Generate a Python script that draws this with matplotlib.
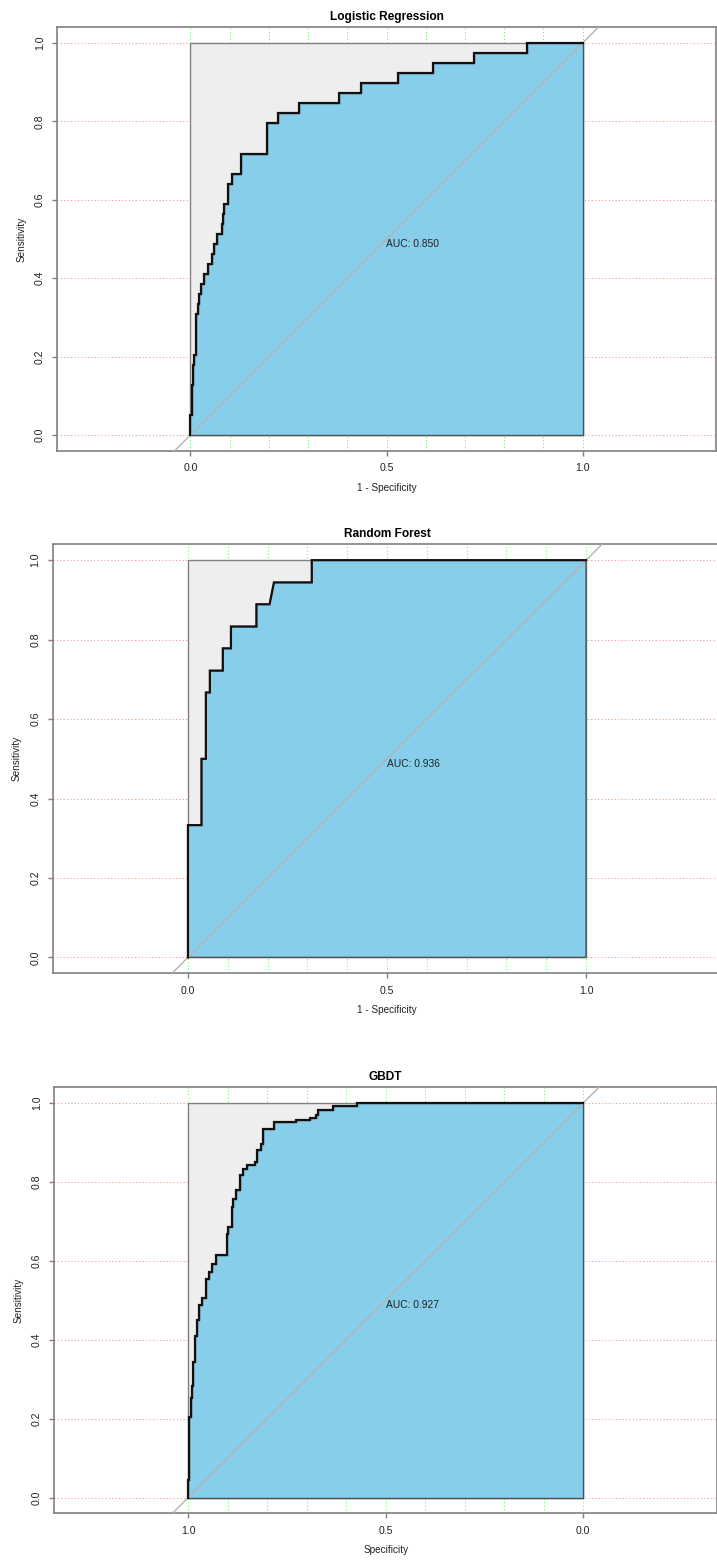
import numpy as np
import matplotlib
matplotlib.use("Agg")
import matplotlib.pyplot as plt

plt.rcParams['font.family'] = ['Liberation Sans', 'DejaVu Sans']

# ROC coordinates (corner points of each staircase)
lr_fpr = [0, 0, 0.003, 0.003, 0.006, 0.006, 0.010, 0.010, 0.015, 0.015, 0.020, 0.020,
          0.023, 0.023, 0.028, 0.028, 0.036, 0.036, 0.044, 0.044, 0.055, 0.055, 0.060,
          0.060, 0.068, 0.068, 0.081, 0.081, 0.083, 0.083, 0.087, 0.087, 0.096, 0.096,
          0.105, 0.105, 0.130, 0.130, 0.195, 0.195, 0.223, 0.223, 0.276, 0.276, 0.379,
          0.379, 0.435, 0.435, 0.529, 0.529, 0.619, 0.619, 0.724, 0.724, 0.857, 0.857, 1]
lr_tpr = [0, 0.051, 0.051, 0.128, 0.128, 0.179, 0.179, 0.205, 0.205, 0.308, 0.308, 0.333,
          0.333, 0.359, 0.359, 0.385, 0.385, 0.410, 0.410, 0.436, 0.436, 0.462, 0.462,
          0.487, 0.487, 0.513, 0.513, 0.538, 0.538, 0.564, 0.564, 0.590, 0.590, 0.641,
          0.641, 0.667, 0.667, 0.718, 0.718, 0.795, 0.795, 0.821, 0.821, 0.846, 0.846,
          0.872, 0.872, 0.897, 0.897, 0.923, 0.923, 0.949, 0.949, 0.974, 0.974, 1.0, 1.0]

rf_fpr = [0, 0, 0.034, 0.034, 0.045, 0.045, 0.055, 0.055, 0.0875, 0.0875, 0.108, 0.108,
          0.172, 0.172, 0.205, 0.216, 0.311, 0.311, 1]
rf_tpr = [0, 0.333, 0.333, 0.5, 0.5, 0.667, 0.667, 0.722, 0.722, 0.778, 0.778, 0.833,
          0.833, 0.889, 0.889, 0.944, 0.944, 1.0, 1.0]

gb_spec = [1.000, 1.000, 0.998, 0.998, 0.994, 0.994, 0.990, 0.990, 0.987, 0.987, 0.983,
           0.983, 0.979, 0.979, 0.972, 0.972, 0.966, 0.966, 0.954, 0.954, 0.947, 0.947,
           0.941, 0.941, 0.931, 0.931, 0.903, 0.903, 0.899, 0.899, 0.890, 0.890, 0.886,
           0.886, 0.878, 0.878, 0.869, 0.869, 0.861, 0.861, 0.852, 0.852, 0.831, 0.831,
           0.825, 0.825, 0.817, 0.817, 0.810, 0.810, 0.783, 0.783, 0.728, 0.728, 0.692,
           0.692, 0.677, 0.677, 0.672, 0.672, 0.634, 0.634, 0.572, 0.572, 0.0]
gb_sens = [0, 0.045, 0.045, 0.205, 0.205, 0.252, 0.252, 0.283, 0.283, 0.344, 0.344,
           0.409, 0.409, 0.449, 0.449, 0.488, 0.488, 0.505, 0.505, 0.555, 0.555, 0.572,
           0.572, 0.593, 0.593, 0.614, 0.614, 0.669, 0.669, 0.686, 0.686, 0.737, 0.737,
           0.758, 0.758, 0.779, 0.779, 0.817, 0.817, 0.834, 0.834, 0.842, 0.842, 0.851,
           0.851, 0.880, 0.880, 0.897, 0.897, 0.935, 0.935, 0.952, 0.952, 0.958, 0.958,
           0.962, 0.962, 0.971, 0.971, 0.983, 0.983, 0.992, 0.992, 1.0, 1.0]

titles = ['Logistic Regression', 'Random Forest', 'GBDT']
auc_values = [0.850, 0.936, 0.927]
xlabels = ['1 - Specificity', '1 - Specificity', 'Specificity']

W, H = 717, 1562
fig = plt.figure(figsize=(W / 100, H / 100), dpi=100)

# left, top, width, height in pixels
boxes = [(57, 27.3, 659, 423.4), (52.6, 544.3, 668.8, 429), (54, 1087.3, 663.4, 426)]
curves = [(lr_fpr, lr_tpr), (rf_fpr, rf_tpr), (gb_spec, gb_sens)]


def roc_panel(ax, x, y, title, auc, xlabel, reverse=False):
    ax.set_ylim(-0.04, 1.04)
    if reverse:
        ax.set_xlim(1.34, -0.34)
    else:
        ax.set_xlim(-0.34, 1.34)
    # grid first so the polygons cover it
    for v in np.arange(0, 1.01, 0.1):
        ax.axvline(v, color='#00ee00', lw=0.7, ls=(0, (1, 2.5)), alpha=0.7, zorder=1)
    for h in np.arange(0, 1.01, 0.2):
        ax.axhline(h, color='red', lw=0.7, ls=(0, (1, 2.5)), alpha=0.5, zorder=1)
    # full square and area under the curve
    ax.fill([0, 0, 1, 1], [0, 1, 1, 0], facecolor='#EEEEEE', edgecolor='#808080',
            lw=1.0, zorder=2)
    px = list(x) + [x[-1]]
    py = list(y) + [0]
    ax.fill(px, py, facecolor='#87CEEB', edgecolor='#505050', lw=1.0, zorder=3)
    if reverse:
        ax.axline((1, 0), (0, 1), color='#B4B4B4', lw=1.0, zorder=4)
    else:
        ax.axline((0, 0), (1, 1), color='#B4B4B4', lw=1.0, zorder=4)
    ax.plot(x, y, color='#111111', lw=1.6, zorder=5, solid_joinstyle='miter')
    ax.text(0.5, 0.5, 'AUC: %.3f' % auc, ha='left', va='top', fontsize=7.4,
            color='#222222', zorder=6)

    ax.set_xticks([0, 0.5, 1])
    ax.set_xticklabels(['0.0', '0.5', '1.0'])
    ax.set_yticks(np.arange(0, 1.01, 0.2))
    ax.set_yticklabels(['%.1f' % t for t in np.arange(0, 1.01, 0.2)])
    ax.tick_params(direction='out', length=3.8, width=1.0, color='#808080',
                   labelsize=7.6, labelcolor='#222222', pad=5)
    ax.tick_params(axis='y', labelrotation=90)
    for tl in ax.get_yticklabels():
        tl.set_va('center')
    for s in ax.spines.values():
        s.set_color('#808080')
        s.set_linewidth(1.2)
    ax.set_title(title, fontsize=8.6, fontweight='bold', pad=5.3)
    ax.set_xlabel(xlabel, fontsize=7.2, labelpad=7, color='#222222')
    ax.set_ylabel('Sensitivity', fontsize=7.2, labelpad=6, color='#222222')


for i, (l, t, w, h) in enumerate(boxes):
    ax = fig.add_axes([l / W, 1 - (t + h) / H, w / W, h / H])
    x, y = curves[i]
    roc_panel(ax, x, y, titles[i], auc_values[i], xlabels[i], reverse=(i == 2))

fig.savefig('out.png', dpi=100)
